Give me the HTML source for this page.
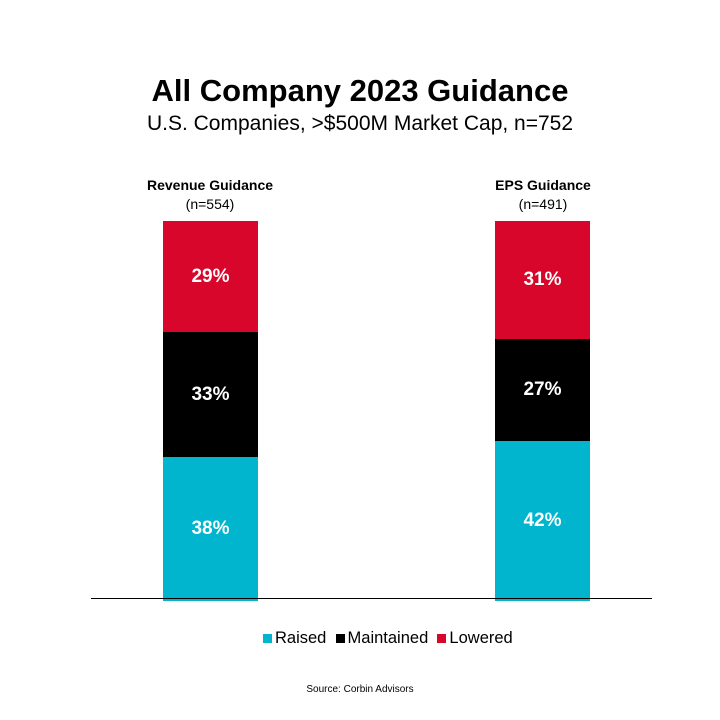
<!DOCTYPE html>
<html><head><style>
body{margin:0;width:720px;height:720px;background:#fff;font-family:"Liberation Sans",sans-serif;position:relative;overflow:hidden}
.a{position:absolute}
.t{left:0;width:720px;text-align:center}
.seg{position:absolute;left:0;width:95px;color:#fff;font-weight:bold;font-size:19px;display:flex;align-items:center;justify-content:center}
.sq{display:inline-block;width:9px;height:9px;margin-right:3px;vertical-align:0px}
</style></head><body>
<div class="a t" style="top:73px;font-size:31px;font-weight:bold;">All Company 2023 Guidance</div>
<div class="a t" style="top:112px;font-size:21px;">U.S. Companies, &gt;$500M Market Cap, n=752</div>
<div class="a" style="left:110px;width:200px;top:176px;text-align:center;font-size:14px;font-weight:bold;line-height:19px">Revenue Guidance<br><span style="font-weight:normal">(n=554)</span></div>
<div class="a" style="left:443px;width:200px;top:176px;text-align:center;font-size:14px;font-weight:bold;line-height:19px">EPS Guidance<br><span style="font-weight:normal">(n=491)</span></div>
<div class="a" style="left:163px;top:221px;width:95px;height:380px">
<div class="seg" style="top:0;height:111px;background:#d7062a">29%</div>
<div class="seg" style="top:111px;height:125px;background:#000">33%</div>
<div class="seg" style="top:236px;height:144px;background:#00b5cd">38%</div>
</div>
<div class="a" style="left:495px;top:221px;width:95px;height:380px">
<div class="seg" style="top:0;height:118px;background:#d7062a">31%</div>
<div class="seg" style="top:118px;height:102px;background:#000">27%</div>
<div class="seg" style="top:220px;height:160px;background:#00b5cd">42%</div>
</div>
<div class="a" style="left:91px;top:598px;width:561px;height:1px;background:#000"></div>
<div class="a" style="left:263px;top:629px;font-size:16.5px;white-space:nowrap"><span class="sq" style="background:#00b5cd"></span>Raised &nbsp;<span class="sq" style="background:#000"></span>Maintained &nbsp;<span class="sq" style="background:#d7062a"></span>Lowered</div>
<div class="a t" style="top:684px;font-size:10px;">Source: Corbin Advisors</div>
</body></html>
